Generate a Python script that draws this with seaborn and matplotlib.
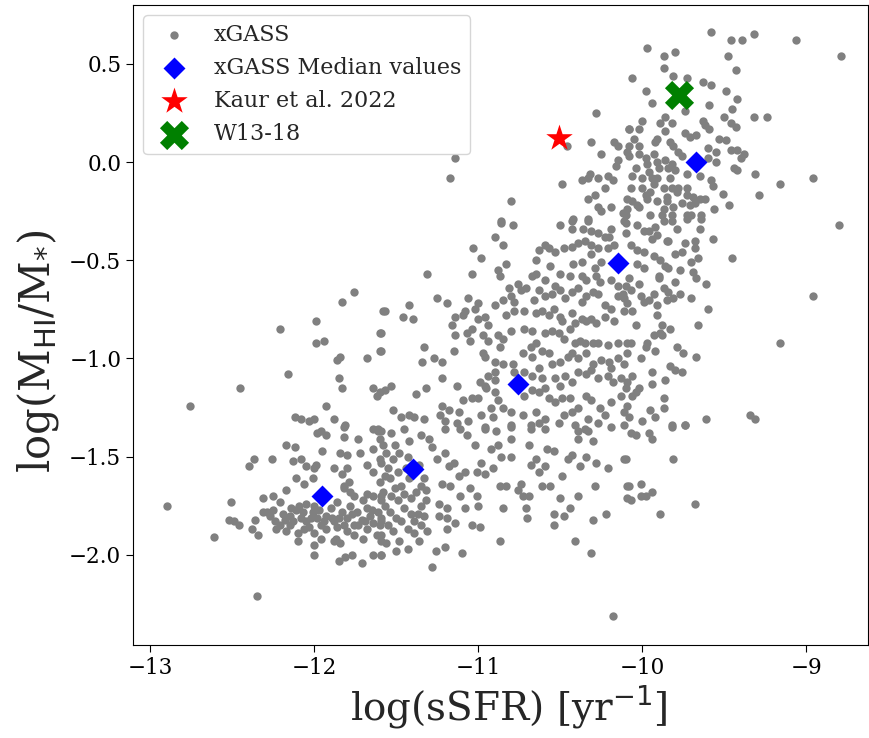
import numpy as np
import matplotlib
matplotlib.use("Agg")
import matplotlib.pyplot as plt
import seaborn as sns

# ----- xGASS galaxies: (log sSFR, log MHI/M*) -----
# upper band, x ~ -11.2 .. -10.1
pts_upper_mid = [
    (-11.14, 0.02), (-11.17, -0.08), (-10.80, -0.20), (-10.28, 0.25), (-10.46, 0.08), (-10.31, 0.10),
    (-10.25, 0.04), (-10.17, 0.10), (-10.15, 0.08), (-10.15, 0.01), (-10.16, -0.02), (-10.08, 0.17),
    (-10.49, -0.11), (-10.37, -0.09), (-10.33, -0.08), (-10.27, -0.08), (-10.21, -0.07), (-10.18, -0.09),
    (-10.32, -0.06), (-10.23, -0.13), (-10.29, -0.17), (-10.33, -0.19), (-10.27, -0.23), (-10.25, -0.25),
    (-10.19, -0.23), (-10.12, -0.26), (-10.42, -0.29), (-10.33, -0.29), (-10.86, -0.30),
]
# upper right, x > -10.1
pts_upper_right = [
    (-9.58, 0.66), (-9.46, 0.62), (-9.39, 0.62), (-9.32, 0.65), (-9.06, 0.62), (-8.79, 0.54), (-9.97, 0.58),
    (-9.87, 0.54), (-9.80, 0.56), (-9.48, 0.54), (-9.87, 0.48), (-9.43, 0.47), (-10.06, 0.43), (-9.81, 0.44),
    (-9.73, 0.43), (-9.63, 0.41), (-9.58, 0.39), (-9.98, 0.36), (-9.49, 0.36), (-9.42, 0.32), (-9.94, 0.30),
    (-9.59, 0.29), (-9.74, 0.26), (-9.45, 0.27), (-9.32, 0.23), (-9.24, 0.23), (-9.86, 0.23), (-9.82, 0.20),
    (-9.89, 0.20), (-9.63, 0.21), (-9.62, 0.19), (-9.59, 0.17), (-9.50, 0.23), (-9.46, 0.20), (-9.43, 0.18),
    (-10.00, 0.21), (-10.08, 0.17), (-10.02, 0.17), (-9.86, 0.16), (-9.91, 0.12), (-9.92, 0.10), (-9.74, 0.15),
    (-9.71, 0.13), (-9.67, 0.14), (-10.05, 0.12), (-10.08, 0.08), (-10.02, 0.08), (-9.83, 0.10), (-9.81, 0.08),
    (-9.78, 0.05), (-9.76, 0.03), (-9.53, 0.12), (-9.49, 0.11), (-9.46, 0.06), (-9.42, 0.06), (-9.38, 0.04),
    (-9.40, 0.02), (-9.60, 0.07), (-9.55, 0.05), (-9.60, 0.02), (-9.55, 0.00), (-10.08, 0.03), (-9.98, 0.02),
    (-9.93, 0.04), (-9.91, 0.00), (-9.86, 0.01), (-9.82, -0.01), (-9.84, -0.03), (-9.80, -0.04), (-9.44, -0.03),
    (-9.42, -0.04), (-9.31, -0.06), (-8.96, -0.08), (-9.16, -0.11), (-9.29, -0.17), (-10.06, -0.07),
    (-10.00, -0.08), (-9.94, -0.08), (-9.93, -0.11), (-9.73, -0.06), (-9.65, -0.07), (-9.58, -0.09),
    (-9.57, -0.12), (-9.87, -0.13), (-9.82, -0.13), (-9.78, -0.13), (-9.85, -0.18), (-9.73, -0.13),
    (-9.73, -0.17), (-9.98, -0.17), (-10.09, -0.19), (-10.06, -0.20), (-10.03, -0.22), (-10.02, -0.23),
    (-9.91, -0.20), (-9.85, -0.20), (-9.81, -0.23), (-9.87, -0.24), (-9.76, -0.21), (-9.69, -0.18),
    (-9.68, -0.21), (-9.62, -0.19), (-9.51, -0.16), (-9.47, -0.22), (-9.56, -0.24), (-10.10, -0.27),
    (-9.95, -0.27), (-9.88, -0.27), (-9.82, -0.27), (-9.73, -0.27), (-9.70, -0.27), (-9.64, -0.27),
    (-10.09, 0.05), (-10.02, 0.04), (-9.97, -0.01), (-10.04, -0.03), (-9.96, -0.05), (-9.90, -0.03),
    (-10.00, -0.13), (-9.95, -0.15), (-10.07, -0.13), (-9.91, -0.08), (-9.83, -0.08), (-9.79, -0.15),
    (-9.71, -0.22), (-9.65, -0.19), (-9.97, -0.19), (-10.09, -0.24),
]
# middle right, x > -10.1, y -0.3 .. -1.35
pts_mid_right = [
    (-8.80, -0.32), (-9.45, -0.49), (-8.96, -0.68), (-9.16, -0.92), (-9.34, -1.29), (-9.31, -1.31),
    (-9.57, -0.39), (-9.64, -0.29), (-9.65, -0.34), (-9.68, -0.40), (-9.68, -0.44), (-9.66, -0.49),
    (-9.70, -0.51), (-9.69, -0.56), (-9.67, -0.59), (-9.61, -0.62), (-9.74, -0.41), (-9.76, -0.46),
    (-9.80, -0.47), (-9.84, -0.40), (-9.77, -0.55), (-9.80, -0.61), (-9.77, -0.67), (-9.70, -0.69),
    (-9.60, -0.75), (-9.66, -0.83), (-9.83, -0.85), (-9.88, -0.83), (-9.89, -0.87), (-9.93, -0.88),
    (-9.88, -0.88), (-9.79, -0.94), (-9.75, -0.97), (-9.67, -0.99), (-9.92, -0.96), (-9.97, -0.92),
    (-9.98, -0.94), (-9.83, -1.04), (-9.80, -1.06), (-9.76, -1.07), (-9.94, -1.07), (-9.94, -1.13),
    (-9.86, -1.11), (-10.06, -1.09), (-10.09, -1.12), (-10.04, -1.17), (-10.02, -1.15), (-9.87, -1.20),
    (-9.87, -1.25), (-9.95, -1.26), (-9.92, -1.30), (-10.00, -1.32), (-10.09, -1.24), (-10.08, -1.30),
    (-9.82, -1.34), (-9.74, -1.34), (-9.61, -1.31),
    (-10.10, -0.31), (-10.03, -0.32), (-9.99, -0.35), (-9.96, -0.35), (-9.92, -0.33), (-9.94, -0.39),
    (-9.91, -0.37), (-10.07, -0.42), (-10.03, -0.45), (-9.99, -0.46), (-9.93, -0.48), (-9.89, -0.50),
    (-9.86, -0.53), (-9.84, -0.54), (-10.03, -0.52), (-9.99, -0.54), (-10.08, -0.59), (-10.02, -0.62),
    (-10.07, -0.65), (-10.01, -0.68), (-9.99, -0.71), (-9.96, -0.70), (-9.91, -0.73), (-9.91, -0.78),
    (-10.06, -0.76), (-10.09, -0.72), (-9.87, -0.64), (-9.84, -0.66), (-9.81, -0.69), (-9.85, -0.70),
    (-9.93, -0.67), (-9.90, -0.59), (-9.90, -0.58), (-9.85, -0.40), (-9.87, -0.30), (-9.82, -0.30),
    (-9.79, -0.34), (-9.73, -0.29), (-10.04, -0.83), (-10.07, -0.92), (-10.09, -0.97), (-10.01, -1.00),
    (-10.10, -1.15), (-10.06, -1.19),
]
# middle left, x < -11.6, y -0.3 .. -1.35
pts_mid_left = [
    (-11.76, -0.66), (-11.83, -0.71), (-11.99, -0.81), (-12.21, -0.85), (-11.99, -0.92), (-11.94, -0.91),
    (-11.86, -1.01), (-11.84, -0.99), (-11.68, -1.00), (-11.60, -0.87), (-11.60, -0.96), (-11.58, -0.76),
    (-12.16, -1.08), (-12.45, -1.15), (-11.85, -1.10), (-11.83, -1.15), (-11.64, -1.15), (-11.60, -1.17),
    (-11.62, -1.19), (-12.76, -1.24), (-11.93, -1.24), (-12.12, -1.30), (-12.08, -1.31), (-12.03, -1.32),
    (-12.00, -1.31), (-11.88, -1.31), (-11.81, -1.34), (-11.64, -1.36), (-11.61, -1.37), (-11.96, -1.37),
]
# central band, x -11.6 .. -10.1, y -0.3 .. -1.35
pts_centre = [
    (-10.86, -0.31), (-10.79, -0.32), (-10.50, -0.32), (-10.43, -0.30), (-10.43, -0.34), (-10.33, -0.30),
    (-10.36, -0.34), (-10.31, -0.35), (-10.27, -0.36), (-10.23, -0.38), (-10.20, -0.38), (-10.19, -0.34),
    (-10.11, -0.30), (-10.10, -0.36), (-10.90, -0.38), (-10.85, -0.42), (-11.03, -0.44), (-10.98, -0.49),
    (-10.63, -0.45), (-10.59, -0.42), (-10.57, -0.44), (-10.53, -0.46), (-10.48, -0.44), (-10.43, -0.43),
    (-10.39, -0.41), (-10.35, -0.40), (-10.31, -0.42), (-10.27, -0.44), (-10.21, -0.44), (-10.17, -0.42),
    (-10.65, -0.50), (-10.56, -0.53), (-10.42, -0.52), (-10.37, -0.51), (-10.31, -0.47), (-10.25, -0.51),
    (-10.29, -0.54), (-11.31, -0.57), (-11.04, -0.57), (-10.83, -0.52), (-10.88, -0.55), (-10.87, -0.58),
    (-10.67, -0.58), (-10.65, -0.57), (-10.59, -0.60), (-10.50, -0.57), (-10.44, -0.58), (-10.37, -0.58),
    (-10.34, -0.60), (-10.28, -0.58), (-10.26, -0.61), (-10.19, -0.60), (-10.15, -0.63), (-10.10, -0.63),
    (-10.76, -0.62), (-10.81, -0.64), (-11.25, -0.69), (-11.19, -0.72), (-11.06, -0.69), (-11.00, -0.72),
    (-10.90, -0.73), (-10.85, -0.70), (-10.80, -0.68), (-10.78, -0.71), (-10.74, -0.65), (-10.71, -0.64),
    (-10.66, -0.70), (-10.63, -0.65), (-10.59, -0.68), (-10.55, -0.67), (-10.53, -0.63), (-10.50, -0.65),
    (-10.47, -0.69), (-10.43, -0.66), (-10.39, -0.64), (-10.37, -0.71), (-10.34, -0.68), (-10.30, -0.66),
    (-10.27, -0.67), (-10.23, -0.73), (-10.19, -0.75), (-10.15, -0.68), (-10.12, -0.67), (-10.11, -0.69),
    (-11.42, -0.73), (-11.57, -0.76), (-11.46, -0.79), (-11.40, -0.80), (-11.14, -0.79), (-11.08, -0.76),
    (-11.09, -0.78), (-11.02, -0.75), (-11.00, -0.80), (-10.96, -0.79), (-10.83, -0.78), (-10.78, -0.76),
    (-10.72, -0.76), (-10.65, -0.77), (-10.61, -0.76), (-10.57, -0.78), (-10.54, -0.75), (-10.50, -0.79),
    (-10.49, -0.81), (-10.43, -0.77), (-10.41, -0.82), (-10.37, -0.80), (-10.34, -0.81), (-10.31, -0.80),
    (-10.28, -0.82), (-10.23, -0.79), (-10.17, -0.81), (-10.11, -0.76), (-11.16, -0.83), (-11.04, -0.85),
    (-10.94, -0.83), (-11.59, -0.87), (-11.14, -0.88), (-11.07, -0.87), (-11.05, -0.91), (-10.97, -0.88),
    (-10.94, -0.91), (-10.88, -0.88), (-10.87, -0.94), (-10.85, -0.90), (-10.80, -0.86), (-10.72, -0.85),
    (-10.67, -0.86), (-10.65, -0.92), (-10.59, -0.87), (-10.55, -0.86), (-10.51, -0.87), (-10.48, -0.90),
    (-10.44, -0.85), (-10.41, -0.92), (-10.38, -0.91), (-10.35, -0.92), (-10.30, -0.92), (-10.27, -0.92),
    (-10.21, -0.93), (-10.15, -0.92), (-10.09, -0.92), (-11.33, -0.94), (-11.15, -0.96), (-11.59, -0.96),
    (-11.27, -1.00), (-11.34, -1.02), (-11.22, -1.02), (-10.97, -0.97), (-10.96, -0.99), (-10.90, -1.02),
    (-10.85, -1.03), (-10.79, -1.03), (-10.73, -0.97), (-10.68, -0.94), (-10.67, -0.99), (-10.61, -0.96),
    (-10.57, -0.97), (-10.55, -1.03), (-10.50, -1.02), (-10.45, -0.99), (-10.43, -0.97), (-10.39, -1.00),
    (-10.34, -0.97), (-10.30, -1.03), (-10.25, -1.01), (-10.20, -1.02), (-10.15, -1.00), (-10.11, -1.03),
    (-10.19, -1.05), (-10.90, -1.07), (-10.94, -1.09), (-10.90, -1.11), (-10.78, -1.07), (-10.72, -1.07),
    (-10.67, -1.09), (-10.63, -1.05), (-10.61, -1.10), (-10.53, -1.10), (-10.50, -1.14), (-10.47, -1.09),
    (-10.43, -1.12), (-10.39, -1.07), (-10.34, -1.08), (-10.31, -1.06), (-10.27, -1.10), (-10.21, -1.09),
    (-10.18, -1.12), (-10.13, -1.10), (-10.99, -1.12), (-10.96, -1.14), (-11.22, -1.10), (-11.13, -1.14),
    (-11.53, -1.14), (-11.57, -1.16), (-11.38, -1.18), (-11.32, -1.15), (-11.09, -1.21), (-11.04, -1.20),
    (-11.00, -1.20), (-10.95, -1.15), (-10.90, -1.17), (-10.88, -1.21), (-10.85, -1.25), (-10.92, -1.25),
    (-10.72, -1.19), (-10.67, -1.16), (-10.63, -1.17), (-10.59, -1.15), (-10.57, -1.20), (-10.53, -1.22),
    (-10.49, -1.20), (-10.44, -1.20), (-10.39, -1.25), (-10.34, -1.19), (-10.31, -1.21), (-10.26, -1.25),
    (-10.19, -1.22), (-10.13, -1.19), (-11.22, -1.24), (-11.18, -1.26), (-11.12, -1.27), (-11.23, -1.29),
    (-11.52, -1.26), (-11.47, -1.30), (-11.42, -1.29), (-11.39, -1.30), (-11.33, -1.31), (-10.98, -1.29),
    (-10.91, -1.30), (-10.80, -1.27), (-10.73, -1.29), (-10.65, -1.27), (-10.59, -1.31), (-10.48, -1.29),
    (-10.43, -1.27), (-10.33, -1.31), (-10.23, -1.29), (-10.11, -1.27), (-11.20, -1.32), (-11.13, -1.33),
    (-11.06, -1.32), (-10.96, -1.35), (-10.80, -1.34), (-10.68, -1.34), (-10.63, -1.33), (-10.51, -1.33),
    (-10.41, -1.34), (-10.35, -1.36), (-10.27, -1.33), (-10.19, -1.35), (-10.11, -1.34),
]
# quenched clump, x < -11.6, y < -1.35
pts_low_left = [
    (-12.90, -1.75), (-12.61, -1.91), (-12.35, -2.21), (-12.51, -1.73), (-12.52, -1.82), (-12.49, -1.83),
    (-12.46, -1.85), (-12.38, -1.87), (-12.34, -1.90), (-12.36, -1.82), (-12.40, -1.55), (-12.37, -1.51),
    (-12.26, -1.51), (-12.17, -1.44), (-12.12, -1.45), (-12.13, -1.52), (-12.08, -1.51), (-12.05, -1.55),
    (-11.99, -1.54), (-11.95, -1.47), (-11.98, -1.38), (-11.93, -1.39), (-11.82, -1.35), (-11.82, -1.40),
    (-11.84, -1.48), (-11.80, -1.49), (-11.73, -1.41), (-11.72, -1.48), (-11.64, -1.46), (-11.60, -1.51),
    (-11.68, -1.54), (-11.64, -1.58), (-11.60, -1.41), (-11.61, -1.36), (-12.17, -1.67), (-12.31, -1.71),
    (-12.25, -1.70), (-12.21, -1.73), (-12.11, -1.61), (-12.06, -1.64), (-12.01, -1.61), (-12.00, -1.56),
    (-11.88, -1.56), (-11.83, -1.59), (-11.80, -1.56), (-11.79, -1.63), (-11.82, -1.65),
    (-12.31, -1.78), (-12.27, -1.80), (-12.24, -1.83), (-12.21, -1.85), (-12.18, -1.82), (-12.15, -1.80),
    (-12.11, -1.77), (-12.09, -1.75), (-12.08, -1.81), (-12.05, -1.83), (-12.03, -1.86), (-12.01, -1.78),
    (-11.98, -1.81), (-11.96, -1.85), (-11.93, -1.80), (-11.90, -1.76), (-11.88, -1.83), (-11.86, -1.86),
    (-11.83, -1.78), (-11.80, -1.81), (-11.78, -1.75), (-11.76, -1.85), (-11.74, -1.78), (-11.71, -1.82),
    (-11.68, -1.76), (-11.66, -1.80), (-11.64, -1.84), (-11.61, -1.78), (-11.59, -1.81), (-12.17, -1.88),
    (-12.10, -1.89), (-12.06, -1.87), (-12.00, -1.89), (-11.96, -1.92), (-11.88, -1.93), (-11.76, -1.90),
    (-11.68, -1.87), (-11.62, -1.90), (-11.59, -1.93), (-12.29, -1.78), (-12.14, -1.76), (-12.05, -1.74),
    (-12.00, -1.75), (-11.86, -1.73), (-11.76, -1.70), (-11.70, -1.72), (-11.64, -1.70), (-11.59, -1.70),
    (-11.78, -1.68), (-11.82, -1.66), (-11.68, -1.69), (-12.10, -1.93), (-12.00, -1.95), (-12.00, -2.00),
    (-11.87, -1.92), (-11.84, -1.94), (-11.85, -2.03), (-11.81, -2.01), (-11.77, -2.00), (-11.71, -2.04),
    (-11.64, -2.00), (-11.59, -2.00), (-12.25, -1.77), (-12.19, -1.79), (-12.13, -1.83), (-12.07, -1.78),
    (-12.02, -1.81), (-11.97, -1.77), (-11.94, -1.83), (-11.89, -1.81), (-11.85, -1.81), (-11.82, -1.85),
    (-11.77, -1.79), (-11.73, -1.85), (-11.69, -1.83), (-11.65, -1.77), (-11.60, -1.85), (-12.23, -1.87),
    (-12.15, -1.85), (-11.93, -1.87), (-11.80, -1.88), (-11.70, -1.92),
]
# quenched clump and low tail, x > -11.6, y < -1.35
pts_low_mid = [
    (-11.59, -1.37), (-11.53, -1.38), (-11.58, -1.44), (-11.51, -1.44), (-11.45, -1.36), (-11.42, -1.42),
    (-11.35, -1.39), (-11.30, -1.41), (-11.28, -1.45), (-11.59, -1.53), (-11.52, -1.51), (-11.49, -1.58),
    (-11.57, -1.60), (-11.54, -1.61), (-11.47, -1.65), (-11.58, -1.68), (-11.53, -1.70), (-11.49, -1.72),
    (-11.57, -1.75), (-11.54, -1.78), (-11.50, -1.81), (-11.59, -1.83), (-11.47, -1.83), (-11.41, -1.71),
    (-11.38, -1.68), (-11.35, -1.65), (-11.32, -1.67), (-11.41, -1.79), (-11.37, -1.79), (-11.33, -1.80),
    (-11.39, -1.83), (-11.31, -1.88), (-11.39, -1.89), (-11.52, -1.88), (-11.59, -1.90), (-11.48, -1.93),
    (-11.43, -1.97), (-11.59, -2.00), (-11.36, -1.93), (-11.26, -1.98), (-11.20, -1.96), (-11.10, -1.99),
    (-11.28, -2.06), (-11.24, -1.74), (-11.19, -1.76), (-11.24, -1.80), (-11.19, -1.81), (-11.14, -1.84),
    (-11.19, -1.87), (-11.25, -1.51), (-11.20, -1.48), (-11.15, -1.53), (-11.18, -1.55), (-11.22, -1.64),
    (-11.17, -1.65), (-11.12, -1.60), (-11.08, -1.58), (-11.05, -1.66), (-11.08, -1.76), (-11.11, -1.70),
    (-11.04, -1.85), (-10.99, -1.86), (-11.00, -1.75), (-11.01, -1.70), (-11.07, -1.39), (-11.02, -1.44),
    (-10.98, -1.53), (-11.01, -1.58), (-10.96, -1.59), (-10.91, -1.56), (-10.89, -1.37), (-10.92, -1.46),
    (-10.88, -1.44), (-10.86, -1.50), (-10.80, -1.41), (-10.80, -1.50), (-10.87, -1.65), (-10.83, -1.65),
    (-10.85, -1.76), (-10.87, -1.93), (-10.76, -1.67), (-10.73, -1.70), (-10.69, -1.70), (-10.71, -1.76),
    (-10.70, -1.81), (-10.74, -1.64), (-10.68, -1.54), (-10.69, -1.44), (-10.65, -1.51), (-10.63, -1.58),
    (-10.61, -1.65), (-10.59, -1.55), (-10.56, -1.65), (-10.54, -1.79), (-10.54, -1.85), (-10.50, -1.71),
    (-10.48, -1.80), (-10.44, -1.76), (-10.39, -1.70), (-10.49, -1.60), (-10.58, -1.46), (-10.54, -1.47),
    (-10.59, -1.36), (-10.68, -1.36), (-10.80, -1.35), (-10.96, -1.36), (-11.20, -1.36), (-11.11, -1.36),
    (-10.45, -1.51), (-10.43, -1.49), (-10.39, -1.41), (-10.39, -1.37), (-10.33, -1.37), (-10.30, -1.42),
    (-10.34, -1.50), (-10.38, -1.55), (-10.28, -1.53), (-10.21, -1.56), (-10.29, -1.65), (-10.22, -1.79),
    (-10.30, -1.82), (-10.41, -1.93), (-10.31, -1.99), (-10.18, -2.31), (-10.11, -1.51), (-10.09, -1.65),
    (-10.09, -1.71), (-11.56, -1.48), (-11.48, -1.48), (-11.43, -1.50), (-11.55, -1.56), (-11.44, -1.56),
    (-11.36, -1.54), (-11.33, -1.61), (-11.42, -1.61), (-11.60, -1.63), (-11.51, -1.66), (-11.45, -1.69),
    (-11.59, -1.72), (-11.45, -1.76), (-11.35, -1.75), (-11.32, -1.72), (-11.55, -1.85), (-11.43, -1.87),
    (-11.35, -1.85), (-11.56, -1.94), (-11.50, -1.98),
]
# lower right, x > -10.1, y < -1.35
pts_low_right = [
    (-10.07, -1.38), (-10.04, -1.39), (-9.96, -1.38), (-9.94, -1.41), (-9.82, -1.35), (-9.74, -1.34),
    (-10.10, -1.51), (-9.81, -1.51), (-10.08, -1.65), (-10.01, -1.64), (-10.07, -1.72), (-10.01, -1.70),
    (-9.98, -1.70), (-9.94, -1.68), (-9.89, -1.79), (-9.68, -1.74),
]

xgass_pts = (pts_upper_mid + pts_upper_right + pts_mid_right + pts_mid_left
             + pts_centre + pts_low_left + pts_low_mid + pts_low_right)
xgass_ssfr = np.array([p[0] for p in xgass_pts])
xgass_hi = np.array([p[1] for p in xgass_pts])

# medians and single objects
median_ssfr = [-11.95, -11.40, -10.76, -10.15, -9.675]
median_hi = [-1.70, -1.565, -1.128, -0.513, 0.0]
kaur_ssfr = [-10.51]
kaur_hi = [0.122]
w13_ssfr = [-9.775]
w13_hi = [0.342]

# ----- plot -----
sns.set_style("ticks")
plt.rcParams["font.family"] = ["DejaVu Serif"]
plt.rcParams["axes.edgecolor"] = "black"
plt.rcParams["xtick.color"] = "black"
plt.rcParams["ytick.color"] = "black"

fig, ax = plt.subplots(figsize=(8.7, 7.38), dpi=100)
fig.subplots_adjust(left=0.153, right=0.998, top=0.993, bottom=0.126)

sns.scatterplot(x=xgass_ssfr, y=xgass_hi, color="gray", s=36, linewidth=0,
                label="xGASS", ax=ax)
sns.scatterplot(x=median_ssfr, y=median_hi, color="blue", marker="D", s=125,
                linewidth=0, label="xGASS Median values", ax=ax)
sns.scatterplot(x=kaur_ssfr, y=kaur_hi, color="red", marker="*", s=400,
                linewidth=0, label="Kaur et al. 2022", ax=ax)
sns.scatterplot(x=w13_ssfr, y=w13_hi, color="green", marker="X", s=440,
                linewidth=0, label="W13-18", ax=ax)

ax.set_xlim(-13.104, -8.622)
ax.set_ylim(-2.459, 0.799)
ax.set_xticks([-13, -12, -11, -10, -9])
ax.set_yticks([-2.0, -1.5, -1.0, -0.5, 0.0, 0.5])
ax.tick_params(labelsize=15.5, length=5)
ax.set_xlabel(r"log(sSFR) [yr$^{-1}$]", fontsize=28, labelpad=3)
ax.set_ylabel(r"log(M$_{\rm HI}$/M$_{*}$)", fontsize=30, labelpad=6)
# labels in the reference sit a little off the axes centre
ax.xaxis.label.set_x(0.511)
ax.yaxis.label.set_y(0.46)
ax.legend(loc="upper left", fontsize=16, borderaxespad=0.45)

fig.savefig("out.png", dpi=100)
